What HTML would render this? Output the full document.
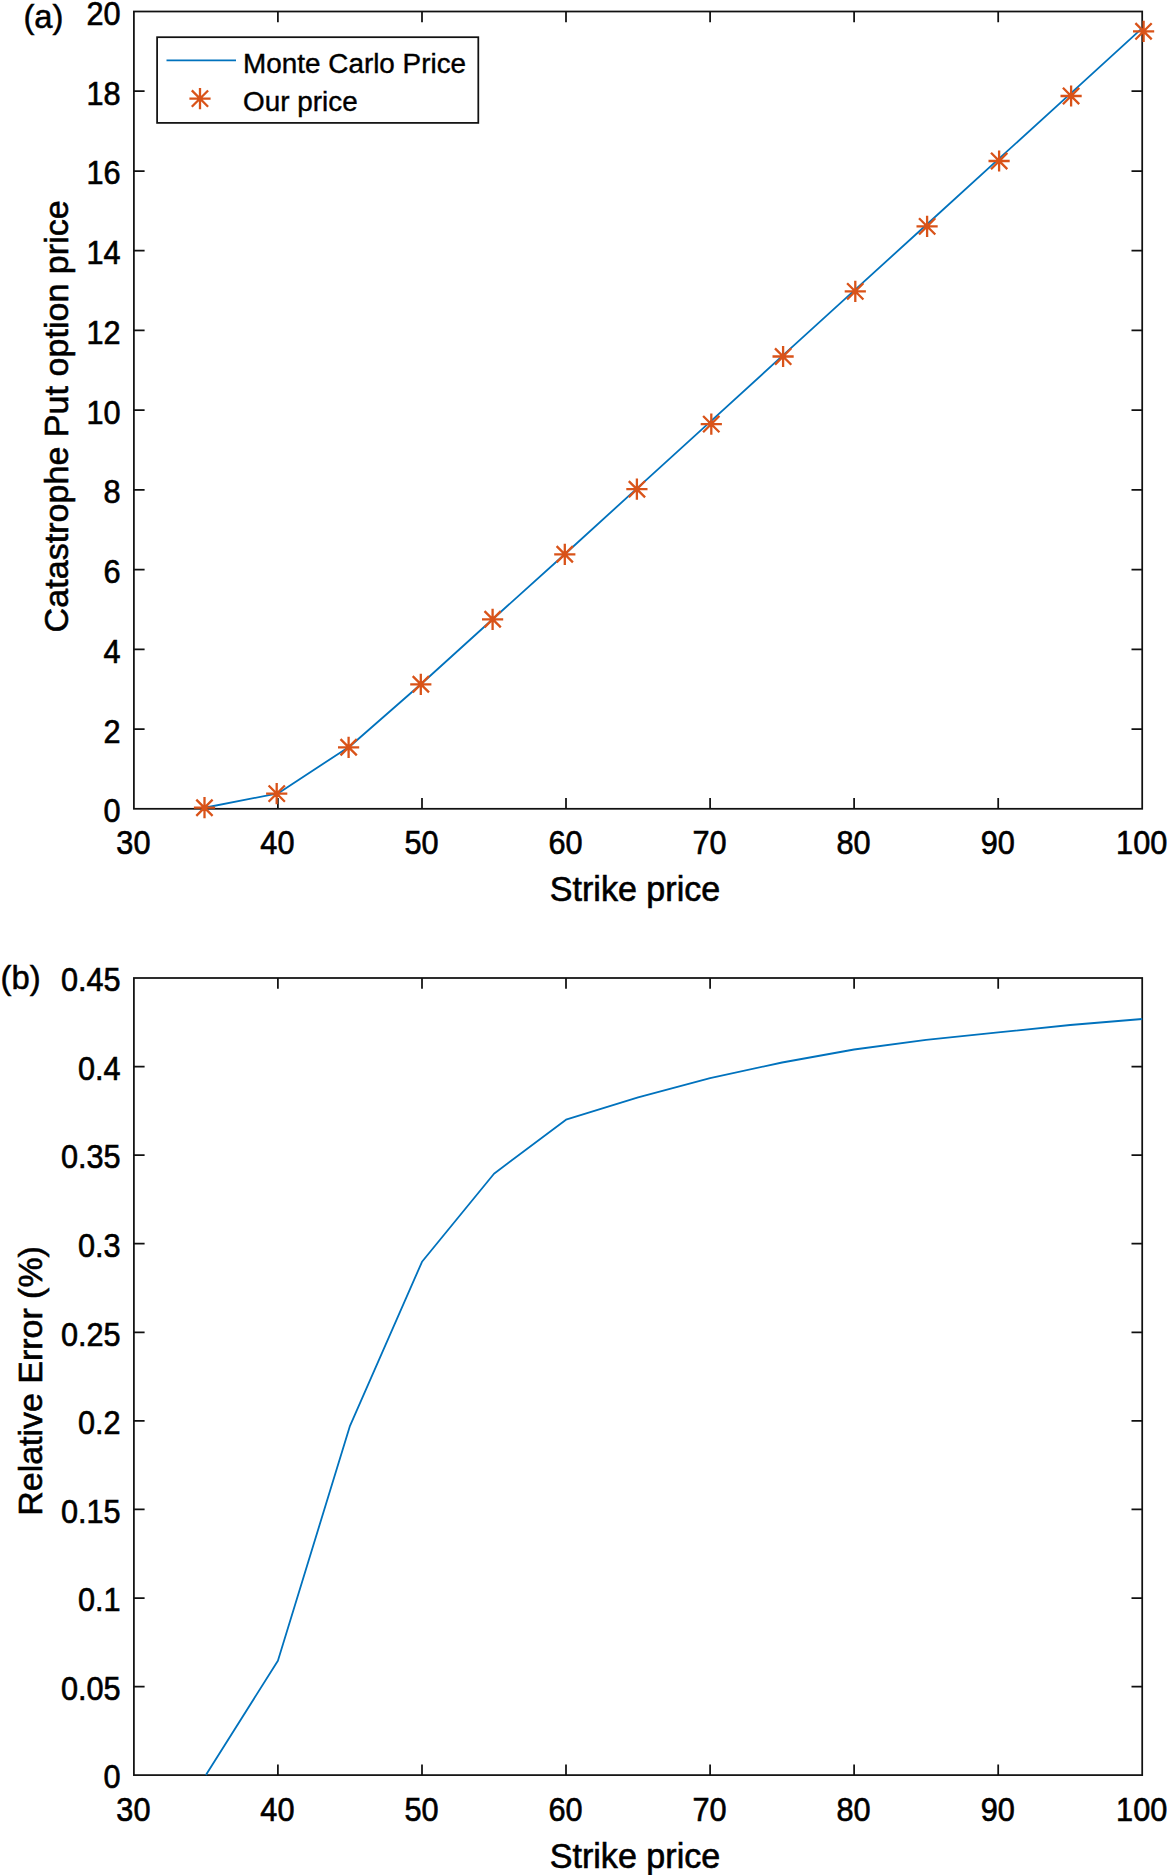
<!DOCTYPE html>
<html lang="en"><head><meta charset="utf-8"><title>Catastrophe Put option price</title>
<style>html,body{margin:0;padding:0;background:#fff}svg{display:block}</style></head>
<body>
<svg width="1167" height="1875" viewBox="0 0 1167 1875" font-family='"Liberation Sans", sans-serif' fill="#000">
<rect width="1167" height="1875" fill="#fff"/>
<rect x="133.9" y="11.5" width="1008.3" height="797.3" fill="none" stroke="#111" stroke-width="1.75"/>
<path d="M277.9 808.8v-10.7M277.9 11.5v10.7M422.0 808.8v-10.7M422.0 11.5v10.7M566.0 808.8v-10.7M566.0 11.5v10.7M710.1 808.8v-10.7M710.1 11.5v10.7M854.1 808.8v-10.7M854.1 11.5v10.7M998.2 808.8v-10.7M998.2 11.5v10.7M133.9 729.1h10.7M1142.2 729.1h-10.7M133.9 649.3h10.7M1142.2 649.3h-10.7M133.9 569.6h10.7M1142.2 569.6h-10.7M133.9 489.9h10.7M1142.2 489.9h-10.7M133.9 410.1h10.7M1142.2 410.1h-10.7M133.9 330.4h10.7M1142.2 330.4h-10.7M133.9 250.7h10.7M1142.2 250.7h-10.7M133.9 171.0h10.7M1142.2 171.0h-10.7M133.9 91.2h10.7M1142.2 91.2h-10.7" stroke="#111" stroke-width="1.75" fill="none"/>
<text transform="translate(133.4 854.3) scale(0.99 1.06)" font-size="31" text-anchor="middle" stroke="#000" stroke-width="0.6">30</text>
<text transform="translate(277.4 854.3) scale(0.99 1.06)" font-size="31" text-anchor="middle" stroke="#000" stroke-width="0.6">40</text>
<text transform="translate(421.5 854.3) scale(0.99 1.06)" font-size="31" text-anchor="middle" stroke="#000" stroke-width="0.6">50</text>
<text transform="translate(565.5 854.3) scale(0.99 1.06)" font-size="31" text-anchor="middle" stroke="#000" stroke-width="0.6">60</text>
<text transform="translate(709.6 854.3) scale(0.99 1.06)" font-size="31" text-anchor="middle" stroke="#000" stroke-width="0.6">70</text>
<text transform="translate(853.6 854.3) scale(0.99 1.06)" font-size="31" text-anchor="middle" stroke="#000" stroke-width="0.6">80</text>
<text transform="translate(997.7 854.3) scale(0.99 1.06)" font-size="31" text-anchor="middle" stroke="#000" stroke-width="0.6">90</text>
<text transform="translate(1141.7 854.3) scale(0.99 1.06)" font-size="31" text-anchor="middle" stroke="#000" stroke-width="0.6">100</text>
<text transform="translate(120.6 822.2) scale(0.99 1.06)" font-size="31" text-anchor="end" stroke="#000" stroke-width="0.6">0</text>
<text transform="translate(120.6 742.5) scale(0.99 1.06)" font-size="31" text-anchor="end" stroke="#000" stroke-width="0.6">2</text>
<text transform="translate(120.6 662.7) scale(0.99 1.06)" font-size="31" text-anchor="end" stroke="#000" stroke-width="0.6">4</text>
<text transform="translate(120.6 583.0) scale(0.99 1.06)" font-size="31" text-anchor="end" stroke="#000" stroke-width="0.6">6</text>
<text transform="translate(120.6 503.3) scale(0.99 1.06)" font-size="31" text-anchor="end" stroke="#000" stroke-width="0.6">8</text>
<text transform="translate(120.6 423.5) scale(0.99 1.06)" font-size="31" text-anchor="end" stroke="#000" stroke-width="0.6">10</text>
<text transform="translate(120.6 343.8) scale(0.99 1.06)" font-size="31" text-anchor="end" stroke="#000" stroke-width="0.6">12</text>
<text transform="translate(120.6 264.1) scale(0.99 1.06)" font-size="31" text-anchor="end" stroke="#000" stroke-width="0.6">14</text>
<text transform="translate(120.6 184.4) scale(0.99 1.06)" font-size="31" text-anchor="end" stroke="#000" stroke-width="0.6">16</text>
<text transform="translate(120.6 104.6) scale(0.99 1.06)" font-size="31" text-anchor="end" stroke="#000" stroke-width="0.6">18</text>
<text transform="translate(120.6 24.9) scale(0.99 1.06)" font-size="31" text-anchor="end" stroke="#000" stroke-width="0.6">20</text>
<polyline points="205.9,807.5 277.9,793.4 350.0,746.2 422.0,683.2 494.0,618.0 566.1,553.0 638.1,487.4 710.1,421.8 782.1,356.2 854.1,290.6 926.2,225.0 998.2,159.4 1070.2,93.8 1142.2,28.2" fill="none" stroke="#0072BD" stroke-width="1.8" stroke-linejoin="round"/>
<path d="M193.9 807.7h21.2M204.5 797.1v21.2M196.3 799.6l16.3 16.3M196.3 815.9l16.3 -16.3M266.1 793.6h21.2M276.7 783.0v21.2M268.6 785.5l16.3 16.3M268.6 801.8l16.3 -16.3M338.0 747.3h21.2M348.6 736.7v21.2M340.5 739.1l16.3 16.3M340.5 755.4l16.3 -16.3M410.2 684.3h21.2M420.8 673.7v21.2M412.7 676.1l16.3 16.3M412.7 692.4l16.3 -16.3M482.0 619.3h21.2M492.6 608.7v21.2M484.5 611.1l16.3 16.3M484.5 627.4l16.3 -16.3M554.2 554.3h21.2M564.8 543.7v21.2M556.6 546.1l16.3 16.3M556.6 562.4l16.3 -16.3M626.3 489.2h21.2M636.9 478.6v21.2M628.8 481.1l16.3 16.3M628.8 497.3l16.3 -16.3M700.7 424.1h21.2M711.3 413.5v21.2M703.1 416.0l16.3 16.3M703.1 432.2l16.3 -16.3M772.5 356.5h21.2M783.1 345.9v21.2M775.0 348.4l16.3 16.3M775.0 364.6l16.3 -16.3M844.7 291.4h21.2M855.3 280.8v21.2M847.1 283.2l16.3 16.3M847.1 299.5l16.3 -16.3M916.5 226.3h21.2M927.1 215.7v21.2M919.0 218.2l16.3 16.3M919.0 234.5l16.3 -16.3M988.5 161.0h21.2M999.1 150.4v21.2M991.0 152.8l16.3 16.3M991.0 169.2l16.3 -16.3M1060.5 96.0h21.2M1071.1 85.4v21.2M1062.9 87.8l16.3 16.3M1062.9 104.2l16.3 -16.3M1133.0 31.3h21.2M1143.6 20.7v21.2M1135.4 23.1l16.3 16.3M1135.4 39.5l16.3 -16.3" stroke="#D95319" stroke-width="2.3" fill="none"/>
<rect x="157.1" y="37.2" width="321.2" height="85.7" fill="#fff" stroke="#111" stroke-width="1.75"/>
<path d="M166.5 60.4H236" stroke="#0072BD" stroke-width="1.8"/>
<path d="M189.4 98.6h21.2M200.0 88.0v21.2M191.8 90.4l16.3 16.3M191.8 106.8l16.3 -16.3" stroke="#D95319" stroke-width="2.3" fill="none"/>
<text transform="translate(243.1 72.6) scale(0.995 1.005)" font-size="28" text-anchor="start" stroke="#000" stroke-width="0.4">Monte Carlo Price</text>
<text transform="translate(243.1 111.3) scale(0.995 1.005)" font-size="28" text-anchor="start" stroke="#000" stroke-width="0.4">Our price</text>
<text transform="translate(635.0 901.1) scale(1.003 1.04)" font-size="34" text-anchor="middle" stroke="#000" stroke-width="0.6">Strike price</text>
<text transform="translate(68.0 416.3) rotate(-90) scale(1.003 1.0)" font-size="34" text-anchor="middle" stroke="#000" stroke-width="0.6">Catastrophe Put option price</text>
<text transform="translate(23.4 28.3) scale(1 1.02)" font-size="32.8" text-anchor="start" stroke="#000" stroke-width="0.5">(a)</text>
<rect x="133.9" y="978.0" width="1008.3" height="797.1" fill="none" stroke="#111" stroke-width="1.75"/>
<path d="M277.9 1775.1v-10.7M277.9 978.0v10.7M422.0 1775.1v-10.7M422.0 978.0v10.7M566.0 1775.1v-10.7M566.0 978.0v10.7M710.1 1775.1v-10.7M710.1 978.0v10.7M854.1 1775.1v-10.7M854.1 978.0v10.7M998.2 1775.1v-10.7M998.2 978.0v10.7M133.9 1686.5h10.7M1142.2 1686.5h-10.7M133.9 1598.0h10.7M1142.2 1598.0h-10.7M133.9 1509.4h10.7M1142.2 1509.4h-10.7M133.9 1420.8h10.7M1142.2 1420.8h-10.7M133.9 1332.3h10.7M1142.2 1332.3h-10.7M133.9 1243.7h10.7M1142.2 1243.7h-10.7M133.9 1155.1h10.7M1142.2 1155.1h-10.7M133.9 1066.6h10.7M1142.2 1066.6h-10.7" stroke="#111" stroke-width="1.75" fill="none"/>
<text transform="translate(133.4 1820.6) scale(0.99 1.06)" font-size="31" text-anchor="middle" stroke="#000" stroke-width="0.6">30</text>
<text transform="translate(277.4 1820.6) scale(0.99 1.06)" font-size="31" text-anchor="middle" stroke="#000" stroke-width="0.6">40</text>
<text transform="translate(421.5 1820.6) scale(0.99 1.06)" font-size="31" text-anchor="middle" stroke="#000" stroke-width="0.6">50</text>
<text transform="translate(565.5 1820.6) scale(0.99 1.06)" font-size="31" text-anchor="middle" stroke="#000" stroke-width="0.6">60</text>
<text transform="translate(709.6 1820.6) scale(0.99 1.06)" font-size="31" text-anchor="middle" stroke="#000" stroke-width="0.6">70</text>
<text transform="translate(853.6 1820.6) scale(0.99 1.06)" font-size="31" text-anchor="middle" stroke="#000" stroke-width="0.6">80</text>
<text transform="translate(997.7 1820.6) scale(0.99 1.06)" font-size="31" text-anchor="middle" stroke="#000" stroke-width="0.6">90</text>
<text transform="translate(1141.7 1820.6) scale(0.99 1.06)" font-size="31" text-anchor="middle" stroke="#000" stroke-width="0.6">100</text>
<text transform="translate(120.6 1788.4) scale(0.99 1.06)" font-size="31" text-anchor="end" stroke="#000" stroke-width="0.6">0</text>
<text transform="translate(120.6 1699.8) scale(0.99 1.06)" font-size="31" text-anchor="end" stroke="#000" stroke-width="0.6">0.05</text>
<text transform="translate(120.6 1611.3) scale(0.99 1.06)" font-size="31" text-anchor="end" stroke="#000" stroke-width="0.6">0.1</text>
<text transform="translate(120.6 1522.7) scale(0.99 1.06)" font-size="31" text-anchor="end" stroke="#000" stroke-width="0.6">0.15</text>
<text transform="translate(120.6 1434.1) scale(0.99 1.06)" font-size="31" text-anchor="end" stroke="#000" stroke-width="0.6">0.2</text>
<text transform="translate(120.6 1345.6) scale(0.99 1.06)" font-size="31" text-anchor="end" stroke="#000" stroke-width="0.6">0.25</text>
<text transform="translate(120.6 1257.0) scale(0.99 1.06)" font-size="31" text-anchor="end" stroke="#000" stroke-width="0.6">0.3</text>
<text transform="translate(120.6 1168.4) scale(0.99 1.06)" font-size="31" text-anchor="end" stroke="#000" stroke-width="0.6">0.35</text>
<text transform="translate(120.6 1079.9) scale(0.99 1.06)" font-size="31" text-anchor="end" stroke="#000" stroke-width="0.6">0.4</text>
<text transform="translate(120.6 991.3) scale(0.99 1.06)" font-size="31" text-anchor="end" stroke="#000" stroke-width="0.6">0.45</text>
<polyline points="205.9,1775.1 277.9,1660.7 350.0,1425.8 422.0,1261.8 494.0,1173.7 566.0,1119.7 638.1,1097.3 710.1,1078.1 782.1,1062.5 854.1,1049.5 926.1,1039.8 998.2,1032.4 1070.2,1025.0 1142.2,1019.0" fill="none" stroke="#0072BD" stroke-width="1.8" stroke-linejoin="round"/>
<text transform="translate(635.0 1867.5) scale(1.003 1.01)" font-size="34" text-anchor="middle" stroke="#000" stroke-width="0.6">Strike price</text>
<text transform="translate(42.1 1380.9) rotate(-90) scale(0.998 1.0)" font-size="34" text-anchor="middle" stroke="#000" stroke-width="0.6">Relative Error (%)</text>
<text transform="translate(0.6 989.0) scale(1 1.02)" font-size="32.8" text-anchor="start" stroke="#000" stroke-width="0.5">(b)</text>
</svg>
</body></html>
